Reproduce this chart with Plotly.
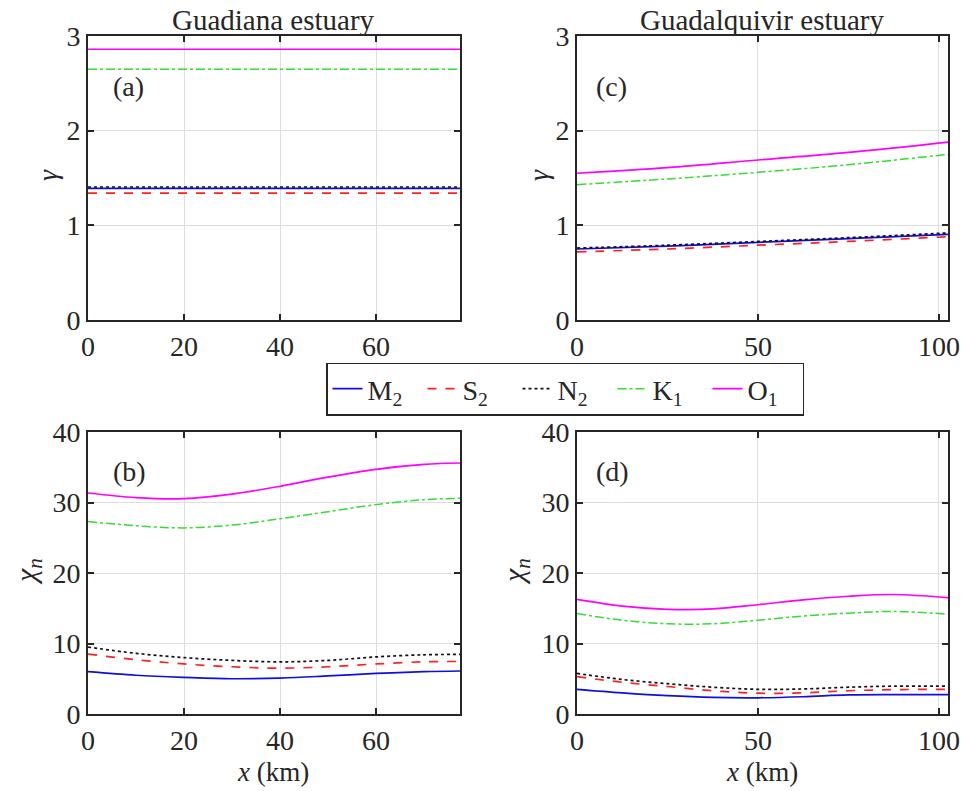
import plotly.graph_objects as go

# ---------------- data ----------------
names = ["M<sub>2</sub>", "S<sub>2</sub>", "N<sub>2</sub>", "K<sub>1</sub>", "O<sub>1</sub>"]

# Panel (a): Guadiana gamma (constant along x)
x_a = [0, 77.5]
gamma_a_M2 = [1.39, 1.39]
gamma_a_S2 = [1.34, 1.34]
gamma_a_N2 = [1.405, 1.405]
gamma_a_K1 = [2.65, 2.65]
gamma_a_O1 = [2.86, 2.86]

# Panel (c): Guadalquivir gamma
x_c = [0, 25, 50, 75, 102.5]
gamma_c_M2 = [0.75, 0.78, 0.82, 0.86, 0.905]
gamma_c_S2 = [0.72, 0.75, 0.79, 0.83, 0.88]
gamma_c_N2 = [0.76, 0.79, 0.83, 0.87, 0.92]
gamma_c_K1 = [1.43, 1.49, 1.56, 1.64, 1.75]
gamma_c_O1 = [1.55, 1.61, 1.69, 1.77, 1.88]

# Panel (b): Guadiana chi_n
x_b = [0, 10, 20, 30, 40, 50, 60, 70, 77.5]
chi_b_M2 = [6.0, 5.5, 5.2, 5.0, 5.1, 5.4, 5.75, 6.0, 6.1]
chi_b_S2 = [8.5, 7.7, 7.1, 6.7, 6.5, 6.7, 7.1, 7.4, 7.45]
chi_b_N2 = [9.5, 8.6, 8.0, 7.6, 7.4, 7.6, 8.1, 8.4, 8.45]
chi_b_K1 = [27.3, 26.7, 26.4, 26.8, 27.7, 28.7, 29.7, 30.4, 30.6]
chi_b_O1 = [31.35, 30.7, 30.55, 31.2, 32.3, 33.6, 34.7, 35.4, 35.6]

# Panel (d): Guadalquivir chi_n
x_d = [0, 12.5, 25, 37.5, 50, 62.5, 75, 87.5, 102.5]
chi_d_M2 = [3.5, 3.0, 2.6, 2.35, 2.3, 2.45, 2.7, 2.75, 2.75]
chi_d_S2 = [5.3, 4.5, 3.9, 3.3, 2.95, 3.0, 3.3, 3.45, 3.5]
chi_d_N2 = [5.75, 4.9, 4.3, 3.8, 3.5, 3.55, 3.8, 3.95, 3.95]
chi_d_K1 = [14.25, 13.3, 12.8, 12.8, 13.3, 13.9, 14.3, 14.55, 14.15]
chi_d_O1 = [16.25, 15.3, 14.85, 14.9, 15.5, 16.2, 16.7, 16.95, 16.5]

x_ticks_a = [0, 20, 40, 60]
x_ticks_c = [0, 50, 100]
y_ticks_gamma = [0, 1, 2, 3]
y_ticks_chi = [0, 10, 20, 30, 40]

# ---------------- styles ----------------
styles = [
    dict(color="#1010d8", dash="solid", width=1.7),
    dict(color="#ff2020", dash="dash", width=1.7),
    dict(color="#111111", dash="dot", width=1.7),
    dict(color="#33dd33", dash="dashdot", width=1.5),
    dict(color="#ff00ff", dash="solid", width=1.7),
]

FONT = "Liberation Serif"
W, H = 961, 791
FS = 28

def xd(a, b):
    return [a / W, b / W]

def yd(top, bot):
    return [1 - bot / H, 1 - top / H]

fig = go.Figure()

panels = [
    ("x", "y", x_a, [gamma_a_M2, gamma_a_S2, gamma_a_N2, gamma_a_K1, gamma_a_O1]),
    ("x2", "y2", x_c, [gamma_c_M2, gamma_c_S2, gamma_c_N2, gamma_c_K1, gamma_c_O1]),
    ("x3", "y3", x_b, [chi_b_M2, chi_b_S2, chi_b_N2, chi_b_K1, chi_b_O1]),
    ("x4", "y4", x_d, [chi_d_M2, chi_d_S2, chi_d_N2, chi_d_K1, chi_d_O1]),
]

for pi, (xa, ya, xs, series) in enumerate(panels):
    for si, ys in enumerate(series):
        fig.add_trace(go.Scatter(
            x=xs, y=ys, xaxis=xa, yaxis=ya, mode="lines",
            line=dict(shape="spline", smoothing=1.0, **styles[si]),
            name=names[si], showlegend=(pi == 0), legendrank=si,
        ))

axis_common = dict(
    showline=True, linecolor="#262626", linewidth=2, mirror="allticks",
    ticks="inside", ticklen=6, tickwidth=1.5, tickcolor="#262626",
    showgrid=True, gridcolor="#dedede", gridwidth=1, zeroline=False,
    tickfont=dict(family=FONT, size=FS, color="#262626"),
    automargin=False,
)
xaxis_extra = dict(ticklabelstandoff=0)
yaxis_extra = dict(ticklabelstandoff=0)

xL = xd(88, 460)
xR = xd(577, 948)
yT = yd(36, 320)
yB = yd(432, 714)

fig.update_layout(
    width=W, height=H, autosize=False,
    margin=dict(l=0, r=0, t=0, b=0, pad=0),
    paper_bgcolor="white", plot_bgcolor="white",
    font=dict(family=FONT, size=FS, color="#262626"),
    xaxis=dict(domain=xL, anchor="y", range=[0, 77.5], tickvals=x_ticks_a, **axis_common, **xaxis_extra),
    yaxis=dict(domain=yT, anchor="x", range=[0, 3], tickvals=y_ticks_gamma, **axis_common, **yaxis_extra),
    xaxis2=dict(domain=xR, anchor="y2", range=[0, 102.5], tickvals=x_ticks_c, **axis_common, **xaxis_extra),
    yaxis2=dict(domain=yT, anchor="x2", range=[0, 3], tickvals=y_ticks_gamma, **axis_common, **yaxis_extra),
    xaxis3=dict(domain=xL, anchor="y3", range=[0, 77.5], tickvals=x_ticks_a, **axis_common, **xaxis_extra),
    yaxis3=dict(domain=yB, anchor="x3", range=[0, 40], tickvals=y_ticks_chi, **axis_common, **yaxis_extra),
    xaxis4=dict(domain=xR, anchor="y4", range=[0, 102.5], tickvals=x_ticks_c, **axis_common, **xaxis_extra),
    yaxis4=dict(domain=yB, anchor="x4", range=[0, 40], tickvals=y_ticks_chi, **axis_common, **yaxis_extra),
    legend=dict(
        orientation="h", x=565 / W, y=1 - 389 / H, xanchor="center", yanchor="middle",
        bordercolor="#262626", borderwidth=1.5, bgcolor="white",
        font=dict(family=FONT, size=FS, color="#262626"),
        entrywidth=50, entrywidthmode="pixels", tracegroupgap=0,
    ),
)

def ann(text, x, y, size=FS, angle=0):
    fig.add_annotation(
        text=text, x=x / W, y=1 - y / H, xref="paper", yref="paper",
        showarrow=False, textangle=angle, xanchor="center", yanchor="middle",
        font=dict(family=FONT, size=size, color="#262626"),
    )

ann("Guadiana estuary", 273, 20, size=29)
ann("Guadalquivir estuary", 762, 20, size=29)
ann("(a)", 128, 87)
ann("(c)", 611, 87)
ann("(b)", 129, 472)
ann("(d)", 612, 472)
ann("<i>γ</i>", 47, 175, angle=-90)
ann("<i>γ</i>", 538, 175, angle=-90)
ann("<i>χ<sub>n</sub></i>", 28, 572, size=30, angle=-90)
ann("<i>χ<sub>n</sub></i>", 516, 572, size=30, angle=-90)
ann("<i>x</i> (km)", 273, 772, size=27)
ann("<i>x</i> (km)", 762, 772, size=27)

fig.write_html(
    "out.html",
    config={"displayModeBar": False},
    post_script="document.body.style.margin='0';document.body.style.overflow='hidden';",
)
